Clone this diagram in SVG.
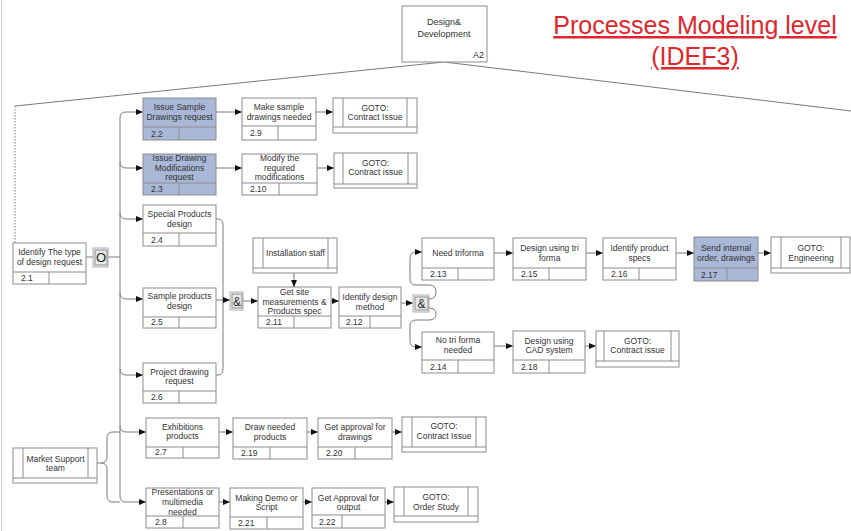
<svg xmlns="http://www.w3.org/2000/svg" width="851" height="531" viewBox="0 0 851 531">
<style>
.bx{fill:#fff;stroke:#8c8c8c;stroke-width:1}
.bl{fill:#a9b8d7;stroke:#8c8c8c;stroke-width:1}
.ln{fill:none;stroke:#8c8c8c;stroke-width:1}
.t{font-family:"Liberation Sans",Arial,sans-serif;font-size:8.5px;fill:#333;text-anchor:middle}
.n{font-family:"Liberation Sans",Arial,sans-serif;font-size:8.5px;fill:#333}
.c{fill:none;stroke:#7a7a7a;stroke-width:1}
.a{fill:none;stroke:#7a7a7a;stroke-width:1;marker-end:url(#ah)}
.jo{fill:#f4f4f4;stroke:#b0b0b0;stroke-width:1}
.ji{fill:#e9e9e9;stroke:#8c8c8c;stroke-width:1}
.jt{font-family:"Liberation Sans",Arial,sans-serif;font-size:13px;fill:#222;text-anchor:middle}
.title{font-family:"Liberation Sans",Arial,sans-serif;font-size:25px;fill:#e0262c;text-anchor:middle;text-decoration:underline}
</style>
<defs>
<marker id="ah" markerWidth="7" markerHeight="6" refX="7" refY="3" orient="auto" markerUnits="userSpaceOnUse"><path d="M0,0 L7,3 L0,6 z" fill="#111"/></marker>
</defs>
<rect width="851" height="531" fill="#fff"/>
<line x1="1.5" y1="0" x2="1.5" y2="531" stroke="#cfcfcf"/>

<text class="title" x="695" y="34">Processes Modeling level</text>
<text class="title" x="695" y="65">(IDEF3)</text>

<g id="connectors">
<path class="c" d="M444,62 L15,106"/>
<path class="c" d="M444,62 L851,111"/>
<path class="c" d="M15,106 V243" stroke-dasharray="1.5,1.5"/>
<path class="c" d="M86,257 H93"/>
<path class="c" d="M108,257 H120"/>
<path class="c" d="M120,118 V496"/>
<path class="a" d="M120,118 Q120,112 126,112 H143"/>
<path class="a" d="M120,162 Q120,168 126,168 H143"/>
<path class="a" d="M120,213 Q120,219 126,219 H143"/>
<path class="a" d="M120,293 Q120,299 126,299 H143"/>
<path class="a" d="M120,369 Q120,375 126,375 H143"/>
<path class="a" d="M120,426 Q120,432 126,432 H146"/>
<path class="a" d="M120,496 Q120,502 126,502 H146"/>
<path class="c" d="M97,463 H101 Q107,463 107,457 V438 Q107,432 113,432 H120"/>
<path class="c" d="M101,463 Q107,463 107,469 V496 Q107,502 113,502 H120"/>
<path class="a" d="M216,112 H242"/>
<path class="a" d="M316,112 H333"/>
<path class="a" d="M216,168 H242"/>
<path class="a" d="M317,168 H334"/>
<path class="c" d="M216,219 H218 Q223,219 223,225 V369 Q223,375 218,375 H216"/>
<path class="a" d="M216,300 H230"/>
<path class="a" d="M243,301 H258"/>
<path class="a" d="M294,273 V287"/>
<path class="a" d="M331,301 H339"/>
<path class="a" d="M401,303 H413"/>
<path class="a" d="M429,299 Q436,299 436,292 Q436,285 429,285 H416 Q410,285 410,279 V258 Q410,252 416,252 H422"/>
<path class="a" d="M429,308 Q436,308 436,314 Q436,320 429,320 H416 Q410,320 410,326 V341 Q410,347 416,347 H422"/>
<path class="a" d="M494,253 H513"/>
<path class="a" d="M586,253 H603"/>
<path class="a" d="M676,253 H694"/>
<path class="a" d="M758,253 H771"/>
<path class="a" d="M494,346 H513"/>
<path class="a" d="M585,346 H596"/>
<path class="a" d="M219,432 H233"/>
<path class="a" d="M307,432 H318"/>
<path class="a" d="M392,432 H402"/>
<path class="a" d="M219,502 H230"/>
<path class="a" d="M303,502 H312"/>
<path class="a" d="M385,502 H394"/>
</g>

<g id="A2">
<rect class="bx" x="402" y="6" width="85" height="56"/>
<text class="t" x="444" y="25" style="font-size:9px">Design&amp;</text>
<text class="t" x="444" y="37" style="font-size:9px">Development</text>
<text class="n" x="484" y="58" style="font-size:9px;text-anchor:end">A2</text>
</g>

<g id="n2_1">
<rect class="bx" x="13" y="243" width="73" height="41"/>
<path class="ln" d="M13,272 H86 M49,272 V284"/>
<text class="t" x="49.5" y="255">Identify The type</text>
<text class="t" x="49.5" y="265">of design request</text>
<text class="n" x="21" y="281">2.1</text>
</g>

<g id="n2_2">
<rect class="bl" x="143" y="98" width="73" height="42"/>
<path class="ln" d="M143,127 H216 M179,127 V140"/>
<text class="t" x="179.5" y="110">Issue Sample</text>
<text class="t" x="179.5" y="120">Drawings request</text>
<text class="n" x="151" y="137">2.2</text>
</g>

<g id="n2_9">
<rect class="bx" x="242" y="98" width="74" height="42"/>
<path class="ln" d="M242,126 H316 M278,126 V140"/>
<text class="t" x="279" y="110">Make sample</text>
<text class="t" x="279" y="120">drawings needed</text>
<text class="n" x="250" y="136">2.9</text>
</g>

<g id="r_contract1">
<rect class="bx" x="333" y="98" width="84" height="35"/>
<path class="ln" d="M343,98 V127 M407,98 V127 M333,127 H417"/>
<text class="t" x="375" y="111">GOTO:</text>
<text class="t" x="375" y="120">Contract Issue</text>
</g>

<g id="n2_3">
<rect class="bl" x="143" y="154" width="73" height="41"/>
<path class="ln" d="M143,183 H216 M179,183 V195"/>
<text class="t" x="179.5" y="161">Issue Drawing</text>
<text class="t" x="179.5" y="170.5">Modifications</text>
<text class="t" x="179.5" y="180">request</text>
<text class="n" x="151" y="192">2.3</text>
</g>

<g id="n2_10">
<rect class="bx" x="242" y="154" width="75" height="41"/>
<path class="ln" d="M242,183 H317 M279,183 V195"/>
<text class="t" x="279.5" y="161">Modify the</text>
<text class="t" x="279.5" y="170.5">required</text>
<text class="t" x="279.5" y="180">modifications</text>
<text class="n" x="250" y="192">2.10</text>
</g>

<g id="r_contract2">
<rect class="bx" x="334" y="153" width="83" height="35"/>
<path class="ln" d="M343,153 V184 M408,153 V184 M334,184 H417"/>
<text class="t" x="375.5" y="166">GOTO:</text>
<text class="t" x="375.5" y="175">Contract issue</text>
</g>

<g id="n2_4">
<rect class="bx" x="143" y="205" width="73" height="41"/>
<path class="ln" d="M143,233 H216 M179,233 V246"/>
<text class="t" x="179.5" y="217">Special Products</text>
<text class="t" x="179.5" y="227">design</text>
<text class="n" x="151" y="243">2.4</text>
</g>

<g id="n2_5">
<rect class="bx" x="143" y="288" width="73" height="40"/>
<path class="ln" d="M143,317 H216 M179,317 V328"/>
<text class="t" x="179.5" y="299">Sample products</text>
<text class="t" x="179.5" y="309">design</text>
<text class="n" x="151" y="325">2.5</text>
</g>

<g id="n2_6">
<rect class="bx" x="143" y="363" width="73" height="40"/>
<path class="ln" d="M143,391 H216 M179,391 V403"/>
<text class="t" x="179.5" y="375">Project drawing</text>
<text class="t" x="179.5" y="384">request</text>
<text class="n" x="151" y="400">2.6</text>
</g>

<g id="j_or">
<rect class="jo" x="93" y="248" width="15" height="19"/>
<rect class="ji" x="95" y="250" width="12" height="15"/>
<text class="jt" x="101" y="262">O</text>
</g>

<g id="j_and1">
<rect class="jo" x="230" y="292" width="13" height="18"/>
<rect class="ji" x="232" y="294" width="10" height="14"/>
<text class="jt" x="237" y="306" style="font-size:12px">&amp;</text>
</g>

<g id="j_and2">
<rect class="jo" x="413" y="295" width="16" height="17"/>
<rect class="ji" x="415" y="297" width="13" height="13"/>
<text class="jt" x="421.5" y="308" style="font-size:12px">&amp;</text>
</g>

<g id="r_install">
<rect class="bx" x="253" y="238" width="84" height="35"/>
<path class="ln" d="M263,238 V268 M328,238 V268 M253,268 H337"/>
<text class="t" x="295.5" y="256">Installation staff</text>
</g>

<g id="n2_11">
<rect class="bx" x="258" y="287" width="73" height="41"/>
<path class="ln" d="M258,316 H331 M294,316 V328"/>
<text class="t" x="294.5" y="295">Get site</text>
<text class="t" x="294.5" y="305">measurements &amp;</text>
<text class="t" x="294.5" y="314">Products spec</text>
<text class="n" x="266" y="325">2.11</text>
</g>

<g id="n2_12">
<rect class="bx" x="339" y="287" width="62" height="41"/>
<path class="ln" d="M339,316 H401 M370,316 V328"/>
<text class="t" x="370" y="300">Identify design</text>
<text class="t" x="370" y="310">method</text>
<text class="n" x="346" y="325">2.12</text>
</g>

<g id="n2_13">
<rect class="bx" x="422" y="238" width="72" height="42"/>
<path class="ln" d="M422,268 H494 M458,268 V280"/>
<text class="t" x="458" y="256">Need triforma</text>
<text class="n" x="430" y="277">2.13</text>
</g>

<g id="n2_15">
<rect class="bx" x="513" y="238" width="73" height="42"/>
<path class="ln" d="M513,268 H586 M549,268 V280"/>
<text class="t" x="549.5" y="251">Design using tri</text>
<text class="t" x="549.5" y="261">forma</text>
<text class="n" x="521" y="277">2.15</text>
</g>

<g id="n2_16">
<rect class="bx" x="603" y="238" width="73" height="42"/>
<path class="ln" d="M603,268 H676 M639,268 V280"/>
<text class="t" x="639.5" y="251">Identify product</text>
<text class="t" x="639.5" y="261">specs</text>
<text class="n" x="611" y="277">2.16</text>
</g>

<g id="n2_17">
<rect class="bl" x="694" y="237" width="64" height="44"/>
<path class="ln" d="M694,268 H758 M727,268 V281"/>
<text class="t" x="726" y="251">Send internal</text>
<text class="t" x="726" y="261">order, drawings</text>
<text class="n" x="701" y="278">2.17</text>
</g>

<g id="r_engineering">
<rect class="bx" x="771" y="237" width="79" height="36"/>
<path class="ln" d="M781,237 V268 M841,237 V268 M771,268 H850"/>
<text class="t" x="811" y="251">GOTO:</text>
<text class="t" x="811" y="261">Engineering</text>
</g>

<g id="n2_14">
<rect class="bx" x="422" y="332" width="72" height="41"/>
<path class="ln" d="M422,360 H494 M458,360 V373"/>
<text class="t" x="458" y="343">No tri forma</text>
<text class="t" x="458" y="353">needed</text>
<text class="n" x="430" y="370">2.14</text>
</g>

<g id="n2_18">
<rect class="bx" x="513" y="331" width="72" height="42"/>
<path class="ln" d="M513,360 H585 M549,360 V373"/>
<text class="t" x="549" y="344">Design using</text>
<text class="t" x="549" y="353">CAD system</text>
<text class="n" x="521" y="370">2.18</text>
</g>

<g id="r_contract3">
<rect class="bx" x="596" y="331" width="83" height="36"/>
<path class="ln" d="M604,331 V361 M671,331 V361 M596,361 H679"/>
<text class="t" x="637.5" y="344">GOTO:</text>
<text class="t" x="637.5" y="353">Contract issue</text>
</g>

<g id="r_market">
<rect class="bx" x="13" y="448" width="84" height="35"/>
<path class="ln" d="M23,448 V478 M88,448 V478 M13,478 H97"/>
<text class="t" x="55.5" y="462">Market Support</text>
<text class="t" x="55.5" y="471">team</text>
</g>

<g id="n2_7">
<rect class="bx" x="146" y="418" width="73" height="40"/>
<path class="ln" d="M146,447 H219 M183,447 V458"/>
<text class="t" x="182.5" y="430">Exhibitions</text>
<text class="t" x="182.5" y="439">products</text>
<text class="n" x="155" y="455">2.7</text>
</g>

<g id="n2_19">
<rect class="bx" x="233" y="418" width="74" height="41"/>
<path class="ln" d="M233,447 H307 M270,447 V459"/>
<text class="t" x="270" y="430">Draw needed</text>
<text class="t" x="270" y="440">products</text>
<text class="n" x="241" y="456">2.19</text>
</g>

<g id="n2_20">
<rect class="bx" x="318" y="418" width="74" height="41"/>
<path class="ln" d="M318,447 H392 M355,447 V459"/>
<text class="t" x="355" y="430">Get approval for</text>
<text class="t" x="355" y="440">drawings</text>
<text class="n" x="326" y="456">2.20</text>
</g>

<g id="r_contract4">
<rect class="bx" x="402" y="417" width="84" height="35"/>
<path class="ln" d="M412,417 V447 M476,417 V447 M402,447 H486"/>
<text class="t" x="444" y="429">GOTO:</text>
<text class="t" x="444" y="439">Contract Issue</text>
</g>

<g id="n2_8">
<rect class="bx" x="146" y="488" width="73" height="40"/>
<path class="ln" d="M146,516 H219 M183,516 V528"/>
<text class="t" x="182.5" y="495">Presentations or</text>
<text class="t" x="182.5" y="505">multimedia</text>
<text class="t" x="182.5" y="515">needed</text>
<text class="n" x="155" y="525">2.8</text>
</g>

<g id="n2_21">
<rect class="bx" x="230" y="488" width="73" height="41"/>
<path class="ln" d="M230,517 H303 M267,517 V529"/>
<text class="t" x="266.5" y="501">Making Demo or</text>
<text class="t" x="266.5" y="510">Script</text>
<text class="n" x="238" y="526">2.21</text>
</g>

<g id="n2_22">
<rect class="bx" x="312" y="488" width="73" height="40"/>
<path class="ln" d="M312,515 H385 M342,515 V528"/>
<text class="t" x="348.5" y="501">Get Approval for</text>
<text class="t" x="348.5" y="510">output</text>
<text class="n" x="319" y="525">2.22</text>
</g>

<g id="r_order">
<rect class="bx" x="394" y="487" width="84" height="35"/>
<path class="ln" d="M404,487 V516 M468,487 V516 M394,516 H478"/>
<text class="t" x="436" y="500">GOTO:</text>
<text class="t" x="436" y="510">Order Study</text>
</g>
</svg>
